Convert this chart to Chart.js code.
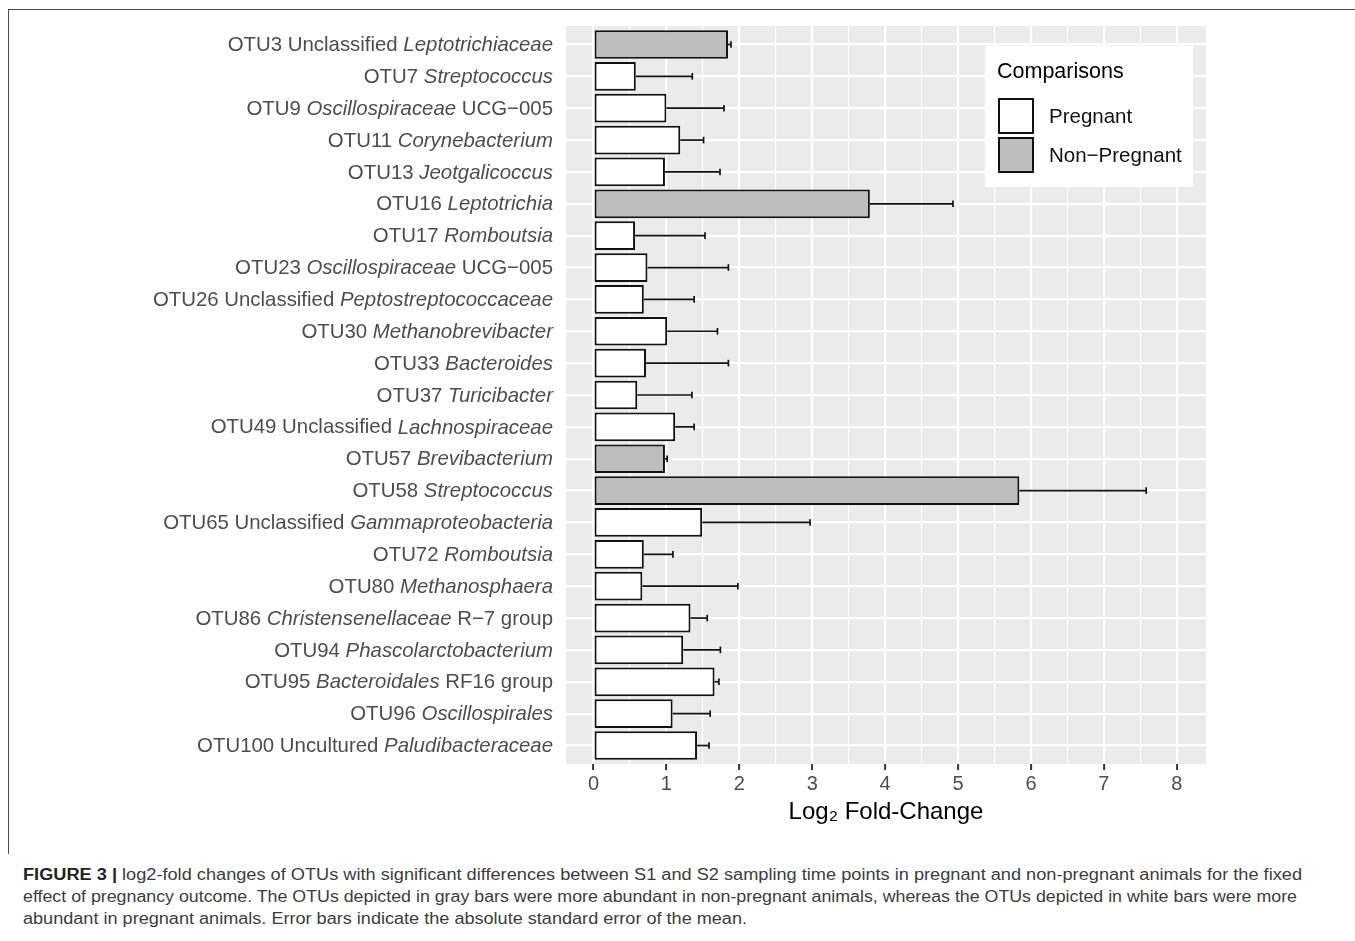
<!DOCTYPE html>
<html>
<head>
<meta charset="utf-8">
<script src="https://cdn.jsdelivr.net/npm/chart.js@4.4.1/dist/chart.umd.min.js"></script>
<style>
  html, body { margin: 0; padding: 0; background: #fff; }
  body { width: 1355px; height: 941px; position: relative; overflow: hidden; font-family: 'Liberation Sans', Arial, sans-serif; }
  #frame { position: absolute; left: 8px; top: 9px; width: 1360px; height: 845px; border-top: 1.5px solid #4a4a4a; border-left: 1.5px solid #4a4a4a; box-sizing: border-box; }
  #wrap { position: absolute; left: 0; top: 0; width: 1355px; height: 840px; }
  .cap { position: absolute; left: 23px; white-space: nowrap; font-size: 16px; color: #3c3c3c; transform-origin: 0 50%; line-height: 20px; }
  .cap b { color: #222; }
</style>
</head>
<body>
<div id="frame"></div>
<div id="wrap"><canvas id="c" width="1355" height="840"></canvas></div>
<div class="cap" id="cap1" data-w="1279" style="top:865px"><b>FIGURE 3 |</b> log2-fold changes of OTUs with significant differences between S1 and S2 sampling time points in pregnant and non-pregnant animals for the fixed</div>
<div class="cap" id="cap2" data-w="1274" style="top:887px">effect of pregnancy outcome. The OTUs depicted in gray bars were more abundant in non-pregnant animals, whereas the OTUs depicted in white bars were more</div>
<div class="cap" id="cap3" data-w="724" style="top:909px">abundant in pregnant animals. Error bars indicate the absolute standard error of the mean.</div>
<script>
// ---- data (asterisks mark italic parts of a label) ----
const categories = [
  "OTU3 Unclassified *Leptotrichiaceae*",
  "OTU7 *Streptococcus*",
  "OTU9 *Oscillospiraceae* UCG\u2212005",
  "OTU11 *Corynebacterium*",
  "OTU13 *Jeotgalicoccus*",
  "OTU16 *Leptotrichia*",
  "OTU17 *Romboutsia*",
  "OTU23 *Oscillospiraceae* UCG\u2212005",
  "OTU26 Unclassified *Peptostreptococcaceae*",
  "OTU30 *Methanobrevibacter*",
  "OTU33 *Bacteroides*",
  "OTU37 *Turicibacter*",
  "OTU49 Unclassified *Lachnospiraceae*",
  "OTU57 *Brevibacterium*",
  "OTU58 *Streptococcus*",
  "OTU65 Unclassified *Gammaproteobacteria*",
  "OTU72 *Romboutsia*",
  "OTU80 *Methanosphaera*",
  "OTU86 *Christensenellaceae* R\u22127 group",
  "OTU94 *Phascolarctobacterium*",
  "OTU95 *Bacteroidales* RF16 group",
  "OTU96 *Oscillospirales*",
  "OTU100 Uncultured *Paludibacteraceae*"
];
const foldChange = [1.845, 0.58, 1.00, 1.19, 0.98, 3.79, 0.57, 0.74, 0.69, 1.01, 0.72, 0.60, 1.12, 0.98, 5.84, 1.49, 0.69, 0.67, 1.33, 1.23, 1.66, 1.085, 1.42];
const errorUpper = [1.885, 1.355, 1.79, 1.51, 1.735, 4.93, 1.53, 1.85, 1.38, 1.70, 1.85, 1.35, 1.38, 1.01, 7.58, 2.97, 1.09, 1.98, 1.56, 1.74, 1.72, 1.60, 1.585];
const group = ["Non\u2212Pregnant","Pregnant","Pregnant","Pregnant","Pregnant","Non\u2212Pregnant","Pregnant","Pregnant","Pregnant","Pregnant","Pregnant","Pregnant","Pregnant","Non\u2212Pregnant","Non\u2212Pregnant","Pregnant","Pregnant","Pregnant","Pregnant","Pregnant","Pregnant","Pregnant","Pregnant"];
const groupNames = ["Pregnant", "Non\u2212Pregnant"];
const groupColors = ["#FFFFFF", "#BEBEBE"];
const xTicks = [0, 1, 2, 3, 4, 5, 6, 7, 8];
const xTitle = "Log\u2082 Fold-Change";
const legendTitle = "Comparisons";

const LABEL_FONT = "'Liberation Sans', Arial, sans-serif";
const LABEL_SIZE = 20.4;

const datasets = groupNames.map((g, gi) => ({
  label: g,
  data: categories.map((c, i) => group[i] === g ? { x: foldChange[i], y: i, up: errorUpper[i] } : null).filter(d => d),
  backgroundColor: groupColors[gi],
  borderColor: "#111",
  borderWidth: 2,
  borderSkipped: false,
  grouped: false,
  barPercentage: 0.9,
  categoryPercentage: 1.0
}));

const panelBg = {
  id: 'panelBg',
  beforeDraw(chart) {
    const a = chart.chartArea, ctx = chart.ctx;
    ctx.save(); ctx.fillStyle = '#EBEBEB';
    ctx.fillRect(a.left, a.top, a.right - a.left, a.bottom - a.top);
    ctx.restore();
  }
};

const errorBars = {
  id: 'errorBars',
  afterDatasetsDraw(chart) {
    const ctx = chart.ctx, xs = chart.scales.x, ys = chart.scales.y;
    ctx.save();
    ctx.strokeStyle = '#111'; ctx.lineWidth = 1.7;
    chart.data.datasets.forEach(ds => ds.data.forEach(d => {
      const x0 = xs.getPixelForValue(d.x), x1 = xs.getPixelForValue(d.up);
      const y = ys.getPixelForValue(d.y);
      const h = 3.3;
      ctx.beginPath(); ctx.moveTo(x0, y); ctx.lineTo(x1, y); ctx.stroke();
      ctx.beginPath(); ctx.moveTo(x1, y - h); ctx.lineTo(x1, y + h); ctx.stroke();
    }));
    ctx.restore();
  }
};

function parseLabel(s) {
  const parts = s.split('*');
  return parts.map((t, i) => ({ text: t, italic: i % 2 === 1 })).filter(p => p.text.length);
}

const yLabels = {
  id: 'yLabels',
  afterDraw(chart) {
    const ctx = chart.ctx, ys = chart.scales.y;
    const right = chart.chartArea.left - 13;
    ctx.save();
    ctx.fillStyle = '#4D4D4D';
    ctx.textBaseline = 'middle';
    ctx.textAlign = 'left';
    categories.forEach((lab, i) => {
      const segs = parseLabel(lab);
      let w = 0;
      segs.forEach(s => { ctx.font = (s.italic ? 'italic ' : '') + LABEL_SIZE + 'px ' + LABEL_FONT; s.w = ctx.measureText(s.text).width; w += s.w; });
      let x = right - w;
      const y = ys.getPixelForValue(i) + 1;
      segs.forEach(s => { ctx.font = (s.italic ? 'italic ' : '') + LABEL_SIZE + 'px ' + LABEL_FONT; ctx.fillText(s.text, x, y); x += s.w; });
    });
    ctx.restore();
  }
};

const legendBox = {
  id: 'legendBox',
  afterDraw(chart) {
    const ctx = chart.ctx;
    const bx = 985, by = 46, bw = 208, bh = 141;
    ctx.save();
    ctx.fillStyle = '#FFFFFF';
    ctx.fillRect(bx, by, bw, bh);
    ctx.fillStyle = '#000';
    ctx.textBaseline = 'middle';
    ctx.font = '21.5px ' + LABEL_FONT;
    ctx.fillText(legendTitle, 997, 72);
    chart.data.datasets.forEach((ds, i) => {
      const ky = 98 + i * 39;
      ctx.fillStyle = ds.backgroundColor;
      ctx.fillRect(998, ky, 36, 36);
      ctx.strokeStyle = '#111'; ctx.lineWidth = 2;
      ctx.strokeRect(999, ky + 1, 34, 34);
      ctx.fillStyle = '#111';
      ctx.font = '20.5px ' + LABEL_FONT;
      ctx.fillText(ds.label, 1049, ky + 19);
    });
    ctx.restore();
  }
};

new Chart(document.getElementById('c'), {
  type: 'bar',
  data: { datasets },
  options: {
    indexAxis: 'y',
    responsive: false,
    animation: false,
    parsing: { xAxisKey: 'x', yAxisKey: 'y' },
    layout: { padding: { top: 26, left: 566, right: 149, bottom: 0 } },
    plugins: { legend: { display: false }, tooltip: { enabled: false } },
    scales: {
      x: {
        type: 'linear',
        position: 'bottom',
        offset: false,
        min: -0.377, max: 8.4,
        afterBuildTicks: s => { const t = []; for (let v = 0; v <= 8; v += 0.5) t.push({ value: v }); s.ticks = t; },
        afterFit: s => { s.height = 76; },
        border: { display: false },
        grid: {
          color: '#FFFFFF',
          offset: false,
          lineWidth: c => (c.tick && Number.isInteger(c.tick.value)) ? 2.2 : 1.1,
          drawTicks: true,
          tickLength: 6,
          tickWidth: 2,
          tickColor: c => (c.tick && Number.isInteger(c.tick.value)) ? '#333333' : 'rgba(0,0,0,0)'
        },
        ticks: {
          autoSkip: false,
          maxRotation: 0,
          padding: 2,
          color: '#4D4D4D',
          font: { family: LABEL_FONT, size: 20 },
          callback: v => xTicks.includes(v) ? String(v) : ''
        },
        title: { display: true, text: xTitle, color: '#000', font: { family: LABEL_FONT, size: 24 }, padding: { top: 2, bottom: 13 } }
      },
      y: {
        type: 'linear',
        reverse: true,
        offset: false,
        min: -0.58, max: 22.58,
        afterBuildTicks: s => { s.ticks = categories.map((c, i) => ({ value: i })); },
        afterFit: s => { s.width = 0; },
        border: { display: false },
        grid: { color: '#FFFFFF', lineWidth: 2.2, drawTicks: false, offset: false },
        ticks: { display: false }
      }
    }
  },
  plugins: [panelBg, errorBars, yLabels, legendBox]
});

// fit caption lines to their measured widths
document.querySelectorAll('.cap').forEach(el => {
  const target = +el.dataset.w;
  const w = el.getBoundingClientRect().width;
  el.style.transform = 'scaleX(' + (target / w) + ')';
});
</script>
</body>
</html>
